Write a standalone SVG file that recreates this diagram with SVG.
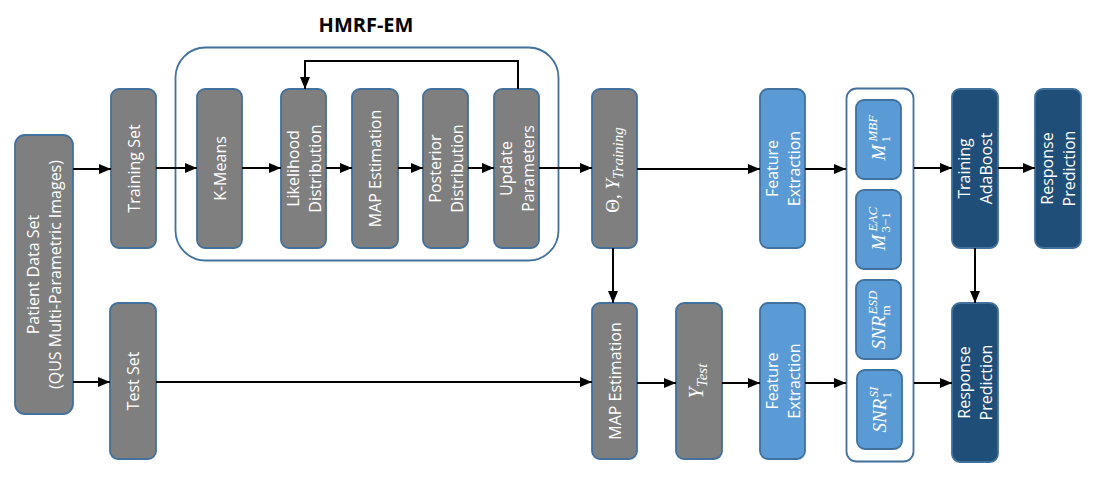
<svg xmlns="http://www.w3.org/2000/svg" width="1095" height="477" viewBox="0 0 1095 477">
<style>
.g{fill:#7f7f7f;stroke:#41719c;stroke-width:1.8}
.b{fill:#5b9bd5;stroke:#41719c;stroke-width:1.8}
.n{fill:#1f4e79;stroke:#41719c;stroke-width:1.8}
.c{fill:#ffffff;stroke:#41719c;stroke-width:1.8}
.t{font-family:"Open Sans","Noto Sans",sans-serif;font-size:16px;fill:#ffffff;text-anchor:middle;dominant-baseline:central}
.m{font-family:"Liberation Serif","DejaVu Serif",serif;fill:#ffffff}
.i{font-style:italic}
.title{font-family:"Open Sans","Noto Sans",sans-serif;font-size:20px;font-weight:bold;fill:#000000;text-anchor:middle}
.e{fill:none;stroke:#000000;stroke-width:2;marker-end:url(#ah)}
</style>
<defs>
<marker id="ah" markerUnits="userSpaceOnUse" markerWidth="13" markerHeight="11" refX="12" refY="5" orient="auto">
<path d="M0,0 L12,5 L0,10 z" fill="#000000"/>
</marker>
</defs>

<g id="hmrf-em">
<rect class="c" x="175.5" y="47.5" width="383" height="213" rx="30"/>
<text class="title" x="366" y="32">HMRF-EM</text>
</g>
<g id="features-container">
<rect class="c" x="846.5" y="88.5" width="67" height="373" rx="10"/>
</g>

<g id="patient">
<rect class="g" x="15" y="135" width="58" height="279" rx="10"/>
<text class="t" transform="rotate(-90 44 274.5)" x="44" y="274.5"><tspan x="44" y="263.5">Patient Data Set</tspan><tspan x="44" y="285.5">(QUS Multi-Parametric Images)</tspan></text>
</g>
<g id="training-set">
<rect class="g" x="111" y="89" width="45" height="159" rx="8"/>
<text class="t" transform="rotate(-90 133.5 168.5)" x="133.5" y="168.5">Training Set</text>
</g>
<g id="test-set">
<rect class="g" x="110" y="303" width="46" height="156" rx="8"/>
<text class="t" transform="rotate(-90 133 381)" x="133" y="381">Test Set</text>
</g>
<g id="kmeans">
<rect class="g" x="197" y="89" width="45" height="159" rx="8"/>
<text class="t" transform="rotate(-90 219.5 168.5)" x="219.5" y="168.5">K-Means</text>
</g>
<g id="likelihood">
<rect class="g" x="281" y="89" width="45" height="159" rx="8"/>
<text class="t" transform="rotate(-90 303.5 168.5)" x="303.5" y="168.5"><tspan x="303.5" y="157.5">Likelihood</tspan><tspan x="303.5" y="179.5">Distribution</tspan></text>
</g>
<g id="map-hmrf">
<rect class="g" x="352" y="89" width="46" height="159" rx="8"/>
<text class="t" transform="rotate(-90 375 168.5)" x="375" y="168.5">MAP Estimation</text>
</g>
<g id="posterior">
<rect class="g" x="423" y="89" width="45" height="159" rx="8"/>
<text class="t" transform="rotate(-90 445.5 168.5)" x="445.5" y="168.5"><tspan x="445.5" y="157.5">Posterior</tspan><tspan x="445.5" y="179.5">Distribution</tspan></text>
</g>
<g id="update">
<rect class="g" x="494" y="89" width="45" height="159" rx="8"/>
<text class="t" transform="rotate(-90 516.5 168.5)" x="516.5" y="168.5"><tspan x="516.5" y="157.5">Update</tspan><tspan x="516.5" y="179.5">Parameters</tspan></text>
</g>
<g id="theta-ytraining">
<rect class="g" x="592" y="89" width="45" height="159" rx="8"/>
<g transform="translate(614.5 170) rotate(-90)">
<text class="m" x="0" y="4" font-size="19" text-anchor="middle">Θ, <tspan class="i">Y</tspan><tspan class="i" font-size="15" dy="4">Training</tspan></text>
</g>
</g>
<g id="feature-extraction-train">
<rect class="b" x="760" y="89" width="45" height="159" rx="8"/>
<text class="t" transform="rotate(-90 782.5 168.5)" x="782.5" y="168.5"><tspan x="782.5" y="157.5">Feature</tspan><tspan x="782.5" y="179.5">Extraction</tspan></text>
</g>
<g id="map-test">
<rect class="g" x="592" y="303" width="45" height="156" rx="8"/>
<text class="t" transform="rotate(-90 614.5 381)" x="614.5" y="381">MAP Estimation</text>
</g>
<g id="ytest">
<rect class="g" x="676" y="303" width="46" height="156" rx="8"/>
<g transform="translate(699 381) rotate(-90)">
<text class="m" x="0" y="4" font-size="20" text-anchor="middle"><tspan class="i">Y</tspan><tspan class="i" font-size="15" dy="4">Test</tspan></text>
</g>
</g>
<g id="feature-extraction-test">
<rect class="b" x="760" y="303" width="45" height="156" rx="8"/>
<text class="t" transform="rotate(-90 782.5 381)" x="782.5" y="381"><tspan x="782.5" y="370">Feature</tspan><tspan x="782.5" y="392">Extraction</tspan></text>
</g>
<g id="m1-mbf">
<rect class="b" x="856" y="100" width="45" height="79" rx="8"/>
<g transform="translate(878.5 139.5) rotate(-90)">
<text class="m i" x="-21" y="6" font-size="19">M</text>
<text class="m i" x="-2" y="-2" font-size="13">MBF</text>
<text class="m" x="-3" y="11" font-size="13">1</text>
</g>
</g>
<g id="m31-eac">
<rect class="b" x="856" y="190" width="45" height="79" rx="8"/>
<g transform="translate(878.5 229.5) rotate(-90)">
<text class="m i" x="-21" y="6" font-size="19">M</text>
<text class="m i" x="-2" y="-2" font-size="13">EAC</text>
<text class="m" x="-3" y="11" font-size="13">3−1</text>
</g>
</g>
<g id="snr-m-esd">
<rect class="b" x="856" y="280" width="45" height="79" rx="8"/>
<g transform="translate(878.5 319.5) rotate(-90)">
<text class="m i" x="-30" y="6" font-size="19">SNR</text>
<text class="m i" x="5" y="-2" font-size="13">ESD</text>
<text class="m" x="4" y="11" font-size="13">m</text>
</g>
</g>
<g id="snr-1-si">
<rect class="b" x="857" y="370" width="45" height="79" rx="8"/>
<g transform="translate(879.5 409.5) rotate(-90)">
<text class="m i" x="-23" y="6" font-size="19">SNR</text>
<text class="m i" x="12" y="-2" font-size="13">SI</text>
<text class="m" x="11" y="11" font-size="13">1</text>
</g>
</g>
<g id="training-adaboost">
<rect class="n" x="952" y="89" width="46" height="159" rx="8"/>
<text class="t" transform="rotate(-90 975 168.5)" x="975" y="168.5"><tspan x="975" y="157.5">Training</tspan><tspan x="975" y="179.5">AdaBoost</tspan></text>
</g>
<g id="response-prediction-top">
<rect class="n" x="1035" y="89" width="46" height="159" rx="8"/>
<text class="t" transform="rotate(-90 1058 168.5)" x="1058" y="168.5"><tspan x="1058" y="157.5">Response</tspan><tspan x="1058" y="179.5">Prediction</tspan></text>
</g>
<g id="response-prediction-bottom">
<rect class="n" x="952" y="303" width="46" height="159" rx="8"/>
<text class="t" transform="rotate(-90 975 382.5)" x="975" y="382.5"><tspan x="975" y="371.5">Response</tspan><tspan x="975" y="393.5">Prediction</tspan></text>
</g>

<g id="connectors">
<path class="e" d="M73,169 L111,169"/>
<path class="e" d="M73,382 L110,382"/>
<path class="e" d="M156,168 L197,168"/>
<path class="e" d="M242,168 L281,168"/>
<path class="e" d="M326,168 L352,168"/>
<path class="e" d="M398,168 L423,168"/>
<path class="e" d="M468,168 L494,168"/>
<path class="e" d="M539,168 L592,168"/>
<path class="e" d="M518,89 L518,61 L305,61 L305,89"/>
<path class="e" d="M637,169 L760,169"/>
<path class="e" d="M805,169 L846,169"/>
<path class="e" d="M613,248 L613,303"/>
<path class="e" d="M156,382 L592,382"/>
<path class="e" d="M637,383 L676,383"/>
<path class="e" d="M722,383 L760,383"/>
<path class="e" d="M805,383 L846,383"/>
<path class="e" d="M914,168 L952,168"/>
<path class="e" d="M998,168 L1035,168"/>
<path class="e" d="M975,248 L975,303"/>
<path class="e" d="M914,383 L952,383"/>
</g>
</svg>
